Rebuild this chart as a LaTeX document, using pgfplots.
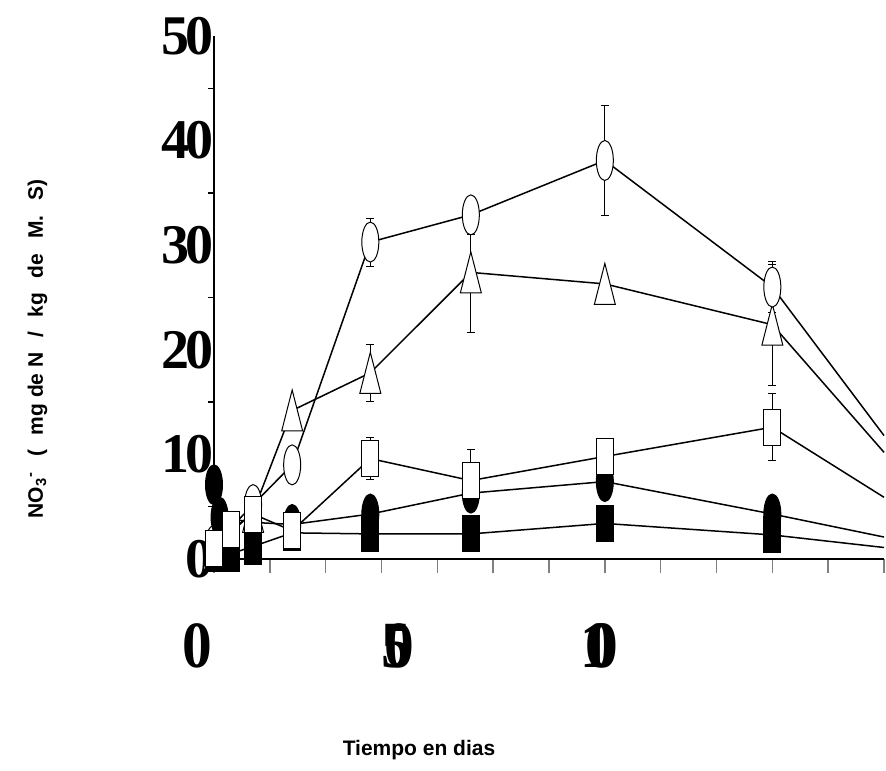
\documentclass[border=0pt]{standalone}
\usepackage{pgfplots}
\pgfplotsset{compat=1.18}
\usepackage{pgfplotstable}
\usepackage{graphicx}
\usepackage{fontspec}
\setmainfont{Liberation Sans}
\newfontfamily\serifnum{Liberation Serif}
\newcommand{\ytl}{\serifnum\bfseries\fontsize{28}{28}\selectfont}
\newcommand{\xtl}{\serifnum\bfseries\fontsize{33}{33}\selectfont}
\newcommand{\gap}{\hspace{0.7em}}

\pgfplotstableread{
x y
0 1.3
7 5.2
14 9.0
28 30.3
46 32.9
70 38.1
100 26.0
120 11.8
}\Circ
\pgfplotstableread{
x y
0 1.0
7 4.5
14 14.2
28 17.8
46 27.4
70 26.3
100 22.4
120 10.2
}\Tri
\pgfplotstableread{
x y
0 1.0
3 2.8
7 4.3
14 2.7
28 9.6
46 7.5
70 9.8
100 12.6
120 5.9
}\Sq
\pgfplotstableread{
x y
0 7.1
1 4.0
7 3.5
14 3.3
28 4.3
46 6.3
70 7.4
100 4.3
120 2.1
}\FEl
\pgfplotstableread{
x y
0 0.5
3 0.5
7 1.2
14 2.5
28 2.4
46 2.4
70 3.4
100 2.3
120 1.1
}\FSq
\pgfplotstableread{
x y ep em
28 30.3 2.3 2.3
70 38.1 5.3 5.3
100 26.0 2.4 2.4
28 17.8 2.7 2.7
46 27.4 3.6 5.7
100 22.4 5.8 5.8
28 9.6 2.0 2.0
46 7.5 3.0 3.0
100 12.6 3.2 3.2
}\Err

\begin{document}
\begin{tikzpicture}
\useasboundingbox (-107pt,-105.5pt) rectangle (336pt,279.5pt);
\begin{axis}[
  at={(0,0)}, anchor=south west,
  scale only axis, width=335pt, height=261.5pt,
  xmin=0, xmax=120, ymin=0, ymax=50,
  axis x line*=bottom, axis y line*=left,
  axis line style={line width=0.75pt},
  tick align=outside,
  major tick length=7pt, minor tick length=3pt,
  clip=false,
  xtick={0,10,...,120}, xticklabels={},
  xtick style={line width=0.75pt},
  ytick={0,10,...,50},
  minor ytick={5,15,...,45},
  major y tick style={draw=none},
  minor y tick style={draw=black, line width=0.75pt},
  yticklabels={0, 1\kern-0.07em0, 2\kern-0.07em0, 3\kern-0.07em0, 4\kern-0.07em0, 5\kern-0.07em0},
  yticklabel style={font=\ytl, anchor=east, inner sep=0pt, xshift=7pt},
  extra x ticks={0,33,69},
  extra x tick labels={{\scalebox{0.9}[1]{0}\hspace*{16.5pt}}, {\scalebox{0.9}[1]{5\kern-0.45em0}}, {\scalebox{0.9}[1]{1\kern-0.42em0\kern-0.46em0}}},
  extra x tick style={xtick style={draw=none}, xticklabel style={font=\xtl, anchor=north, inner sep=0pt, yshift=-25pt}},
  xlabel={Tiempo en dias},
  xlabel style={at={(rel axis cs:0.306,-0.3652)}, anchor=center, font=\bfseries\fontsize{10.5}{12}\selectfont},
  ylabel={NO\textsubscript{3}\textsuperscript{-}\gap(\gap mg de N\gap/\gap kg\gap de\gap M.\gap S)},
  ylabel style={at={(rel axis cs:-0.2634,0.4015)}, anchor=center, font=\bfseries\fontsize{10.5}{12}\selectfont},
]
% error bars (drawn first, markers cover their inner parts)
\addplot[draw=none, mark=none, forget plot,
  error bars/.cd, y dir=both, y explicit,
  error bar style={draw=black, line width=0.5pt},
  error mark options={rotate=90, draw=black, mark size=2pt, line width=0.5pt}]
  table[x=x, y=y, y error plus=ep, y error minus=em] {\Err};
% open triangles
\addplot[black, line width=0.75pt, mark=triangle*, mark size=13.67pt, mark indices={1,2,3,4,5,6,7},
  mark options={fill=white, line width=0.5pt, xscale=0.443, yshift=-3.42pt}] table[x=x,y=y] {\Tri};
% open ellipses
\addplot[black, line width=0.75pt, mark=*, mark size=10pt, mark indices={1,2,3,4,5,6,7},
  mark options={fill=white, line width=0.5pt, xscale=0.425}] table[x=x,y=y] {\Circ};
% filled ellipses
\addplot[black, line width=0.75pt, mark=*, mark size=10pt, mark indices={1,2,3,4,5,6,7,8},
  mark options={fill=black, line width=0.5pt, xscale=0.425}] table[x=x,y=y] {\FEl};
% filled squares
\addplot[black, line width=0.75pt, mark=square*, mark size=9pt, mark indices={1,2,3,4,5,6,7,8},
  mark options={fill=black, line width=0.5pt, xscale=0.47}] table[x=x,y=y] {\FSq};
% open squares
\addplot[black, line width=0.75pt, mark=square*, mark size=9pt, mark indices={1,2,3,4,5,6,7,8},
  mark options={fill=white, line width=0.5pt, xscale=0.47}] table[x=x,y=y] {\Sq};
\end{axis}
\end{tikzpicture}
\end{document}
